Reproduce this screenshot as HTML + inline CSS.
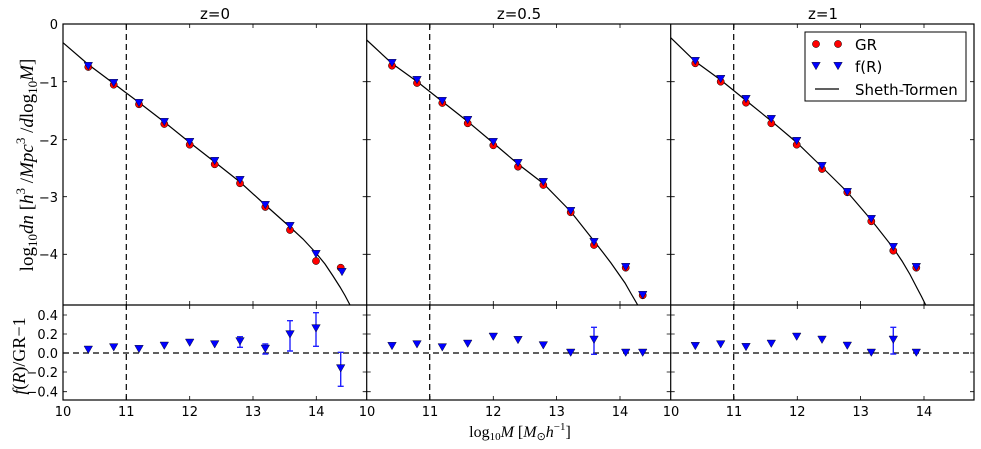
<!DOCTYPE html>
<html><head><meta charset="utf-8"><style>
body{margin:0;background:#fff;}
svg{display:block;font-family:"DejaVu Sans","Liberation Sans",sans-serif;}
.t{font-size:13px;fill:#000}
</style></head><body>
<svg width="981" height="449" viewBox="0 0 981 449" xmlns="http://www.w3.org/2000/svg">
<defs>
<g id="c"><circle r="3.6" fill="#f00" stroke="#000" stroke-width="0.5"/></g>
<g id="v"><path d="M-4.3,-3.7 L4.3,-3.7 L0,3.8 Z" fill="#00f" stroke="#000" stroke-width="0.4"/></g>
</defs>
<text x="215" y="19" text-anchor="middle" font-size="15">z=0</text>
<text x="519" y="19" text-anchor="middle" font-size="15">z=0.5</text>
<text x="823" y="19" text-anchor="middle" font-size="15">z=1</text>

<g stroke="#000" stroke-width="1.2" stroke-dasharray="6,4" fill="none">
<line x1="126.3" y1="24" x2="126.3" y2="400"/>
<line x1="429.7" y1="24" x2="429.7" y2="400"/>
<line x1="733.7" y1="24" x2="733.7" y2="400"/>
<line x1="63" y1="353" x2="974" y2="353"/>
</g>

<g stroke="#000" stroke-width="1.2" fill="none">
<polyline points="63,42.7 88.3,64.5 113.7,83.5 126.3,93 139,102.5 164.3,122 189.7,142.5 214.7,162 240,182 265.3,205 290,227 303,239 316,253 325,264 333,276 340,287 345,295.5 350,305"/>
<polyline points="366.7,40 392,63.5 417,81.5 442.3,101.5 467.7,121.5 493.3,143 518,164 543.3,183.5 570.7,211.5 594,241 603,252.5 611,263 618,273 625,283 631,293.5 637.7,305"/>
<polyline points="670.7,37.7 695.3,61.5 720.7,80 746,100.5 771.3,121 796.7,142.5 822,167 847.3,192 871.3,220 893.3,248 902,261 910,274.5 917,288 921.5,296.5 925.7,305"/>
</g>

<g>
<use href="#c" x="88.3" y="67"/><use href="#c" x="113.7" y="84.7"/><use href="#c" x="139" y="104.3"/><use href="#c" x="164.3" y="124"/><use href="#c" x="189.7" y="144.7"/><use href="#c" x="214.7" y="164.3"/><use href="#c" x="240" y="183.3"/><use href="#c" x="265.3" y="207"/><use href="#c" x="290" y="230"/><use href="#c" x="316" y="261"/><use href="#c" x="340.7" y="267.7"/>
<use href="#c" x="392" y="65.7"/><use href="#c" x="417" y="83"/><use href="#c" x="442.3" y="103"/><use href="#c" x="467.7" y="123.3"/><use href="#c" x="493.3" y="145.3"/><use href="#c" x="518" y="166.7"/><use href="#c" x="543.3" y="185"/><use href="#c" x="570.7" y="212.3"/><use href="#c" x="594" y="245"/><use href="#c" x="625.7" y="267.7"/><use href="#c" x="642.7" y="295.3"/>
<use href="#c" x="695.3" y="63.3"/><use href="#c" x="720.7" y="81.7"/><use href="#c" x="746" y="102.7"/><use href="#c" x="771.3" y="123.3"/><use href="#c" x="796.7" y="144.7"/><use href="#c" x="822" y="169"/><use href="#c" x="847.3" y="192.3"/><use href="#c" x="871.3" y="221.3"/><use href="#c" x="893.3" y="250.7"/><use href="#c" x="916.3" y="267.7"/>
</g>
<g>
<use href="#v" x="88.3" y="66"/><use href="#v" x="113.7" y="83"/><use href="#v" x="139" y="103"/><use href="#v" x="164.3" y="122"/><use href="#v" x="189.7" y="142"/><use href="#v" x="214.7" y="161"/><use href="#v" x="240" y="180"/><use href="#v" x="265.3" y="205"/><use href="#v" x="290" y="226"/><use href="#v" x="316" y="254"/><use href="#v" x="342" y="272"/>
<use href="#v" x="392" y="63"/><use href="#v" x="417" y="80"/><use href="#v" x="442.3" y="101"/><use href="#v" x="467.7" y="120"/><use href="#v" x="493.3" y="142"/><use href="#v" x="518" y="163"/><use href="#v" x="543.3" y="182"/><use href="#v" x="570.7" y="211"/><use href="#v" x="594" y="242"/><use href="#v" x="625.7" y="267"/><use href="#v" x="642.7" y="295"/>
<use href="#v" x="695.3" y="61"/><use href="#v" x="720.7" y="79"/><use href="#v" x="746" y="99"/><use href="#v" x="771.3" y="119"/><use href="#v" x="796.7" y="141"/><use href="#v" x="822" y="166"/><use href="#v" x="847.3" y="192"/><use href="#v" x="871.3" y="219"/><use href="#v" x="893.3" y="247"/><use href="#v" x="916.3" y="267"/>
</g>

<g stroke="#22f" stroke-width="1.4" fill="none">
<path d="M240,336.7V347.3M237,336.7h6M237,347.3h6"/>
<path d="M265.3,344V354M262.3,344h6M262.3,354h6"/>
<path d="M290,320.7V351M287,320.7h6M287,351h6"/>
<path d="M316,312.7V346.3M313,312.7h6M313,346.3h6"/>
<path d="M340.7,352.3V386.3M337.7,352.3h6M337.7,386.3h6"/>
<path d="M594,327.3V354.3M591,327.3h6M591,354.3h6"/>
<path d="M893.3,327.3V354M890.3,327.3h6M890.3,354h6"/>
</g>
<g>
<use href="#v" x="88.3" y="349.7"/><use href="#v" x="113.7" y="347.3"/><use href="#v" x="139" y="349"/><use href="#v" x="164.3" y="345.7"/><use href="#v" x="189.7" y="342.7"/><use href="#v" x="214.7" y="344.3"/><use href="#v" x="240" y="341.3"/><use href="#v" x="265.3" y="348.7"/><use href="#v" x="290" y="334.3"/><use href="#v" x="316" y="328.3"/><use href="#v" x="340.7" y="368.3"/>
<use href="#v" x="392" y="346"/><use href="#v" x="417" y="344.3"/><use href="#v" x="442.3" y="347.3"/><use href="#v" x="467.7" y="343.7"/><use href="#v" x="493.3" y="336.7"/><use href="#v" x="518" y="340"/><use href="#v" x="543.3" y="345.3"/><use href="#v" x="570.7" y="352.7"/><use href="#v" x="594" y="339.7"/><use href="#v" x="625.7" y="352.7"/><use href="#v" x="642.7" y="352.7"/>
<use href="#v" x="695.3" y="346"/><use href="#v" x="720.7" y="344.3"/><use href="#v" x="746" y="347"/><use href="#v" x="771.3" y="343.7"/><use href="#v" x="796.7" y="336.7"/><use href="#v" x="822" y="339.7"/><use href="#v" x="847.3" y="345.7"/><use href="#v" x="871.3" y="352.7"/><use href="#v" x="893.3" y="339.7"/><use href="#v" x="916.3" y="352.7"/>
</g>

<g stroke="#000" stroke-width="1.2" fill="none">
<rect x="63" y="24" width="911" height="376"/>
<line x1="63" y1="305" x2="974" y2="305"/>
<line x1="366.7" y1="24" x2="366.7" y2="400"/>
<line x1="670.7" y1="24" x2="670.7" y2="400"/>
</g>
<g stroke="#000" stroke-width="0.8">
<path d="M126.3,24v4M189.7,24v4M253,24v4M316.3,24v4M126.3,400v-4M189.7,400v-4M253,400v-4M316.3,400v-4M126.3,305v-4M189.7,305v-4M253,305v-4M316.3,305v-4M126.3,305v4M189.7,305v4M253,305v4M316.3,305v4"/>
<path d="M430,24v4M493.3,24v4M556.6,24v4M620,24v4M430,400v-4M493.3,400v-4M556.6,400v-4M620,400v-4M430,305v-4M493.3,305v-4M556.6,305v-4M620,305v-4M430,305v4M493.3,305v4M556.6,305v4M620,305v4"/>
<path d="M734,24v4M797.3,24v4M860.6,24v4M924,24v4M734,400v-4M797.3,400v-4M860.6,400v-4M924,400v-4M734,305v-4M797.3,305v-4M860.6,305v-4M924,305v-4M734,305v4M797.3,305v4M860.6,305v4M924,305v4"/>
<path d="M63,81.7h4M63,139.7h4M63,196.7h4M63,254.3h4M366.7,81.7h4M366.7,139.7h4M366.7,196.7h4M366.7,254.3h4M670.7,81.7h4M670.7,139.7h4M670.7,196.7h4M670.7,254.3h4"/>
<path d="M366.7,81.7h-4M366.7,139.7h-4M366.7,196.7h-4M366.7,254.3h-4M670.7,81.7h-4M670.7,139.7h-4M670.7,196.7h-4M670.7,254.3h-4M974,81.7h-4M974,139.7h-4M974,196.7h-4M974,254.3h-4"/>
<path d="M63,315h4M63,334h4M63,353h4M63,372h4M63,391.7h4M366.7,315h4M366.7,334h4M366.7,353h4M366.7,372h4M366.7,391.7h4M670.7,315h4M670.7,334h4M670.7,353h4M670.7,372h4M670.7,391.7h4"/>
<path d="M366.7,315h-4M366.7,334h-4M366.7,353h-4M366.7,372h-4M366.7,391.7h-4M670.7,315h-4M670.7,334h-4M670.7,353h-4M670.7,372h-4M670.7,391.7h-4M974,315h-4M974,334h-4M974,353h-4M974,372h-4M974,391.7h-4"/>
</g>

<g class="t" text-anchor="end">
<text x="58" y="29">0</text><text x="58" y="87">−1</text><text x="58" y="145">−2</text><text x="58" y="202">−3</text><text x="58" y="259">−4</text>
<text x="58" y="320">0.4</text><text x="58" y="339">0.2</text><text x="58" y="358">0.0</text><text x="58" y="377">−0.2</text><text x="58" y="396.5">−0.4</text>
</g>
<g class="t" text-anchor="middle">
<text x="63" y="416">10</text><text x="126.3" y="416">11</text><text x="189.7" y="416">12</text><text x="253" y="416">13</text><text x="316.3" y="416">14</text>
<text x="367" y="416">10</text><text x="430" y="416">11</text><text x="493.3" y="416">12</text><text x="556.6" y="416">13</text><text x="620" y="416">14</text>
<text x="671" y="416">10</text><text x="734" y="416">11</text><text x="797.3" y="416">12</text><text x="860.6" y="416">13</text><text x="924" y="416">14</text>
</g>
<text x="520" y="437" text-anchor="middle" font-family="Liberation Serif,serif" font-size="16">log<tspan font-size="11" dy="3">10</tspan><tspan dy="-3" font-style="italic">M</tspan> [<tspan font-style="italic">M</tspan><tspan font-size="11" dy="3">⊙</tspan><tspan dy="-3" font-style="italic">h</tspan><tspan font-size="11" dy="-7">−1</tspan><tspan dy="7">]</tspan></text>
<text transform="translate(33,165) rotate(-90)" text-anchor="middle" font-family="Liberation Serif,serif" font-size="19">log<tspan font-size="13" dy="4">10</tspan><tspan dy="-4" font-style="italic">dn</tspan> [<tspan font-style="italic">h</tspan><tspan font-size="13" dy="-8">3</tspan><tspan dy="8"> /</tspan><tspan font-style="italic">Mpc</tspan><tspan font-size="13" dy="-8">3</tspan><tspan dy="8"> /</tspan><tspan font-style="italic">d</tspan>log<tspan font-size="13" dy="4">10</tspan><tspan dy="-4" font-style="italic">M</tspan>]</text>
<text transform="translate(25,356) rotate(-90)" text-anchor="middle" font-family="Liberation Serif,serif" font-size="18"><tspan font-style="italic">f</tspan>(<tspan font-style="italic">R</tspan>)/GR−1</text>

<rect x="805" y="32" width="161" height="69" fill="#fff" stroke="#000" stroke-width="1"/>
<use href="#c" x="816" y="44"/><use href="#c" x="838" y="44"/>
<use href="#v" x="816" y="66"/><use href="#v" x="838" y="66"/>
<line x1="815" y1="89" x2="839" y2="89" stroke="#000" stroke-width="1.2"/>
<g font-size="15"><text x="855" y="50">GR</text><text x="855" y="72">f(R)</text><text x="855" y="95">Sheth-Tormen</text></g>
</svg>
</body></html>
